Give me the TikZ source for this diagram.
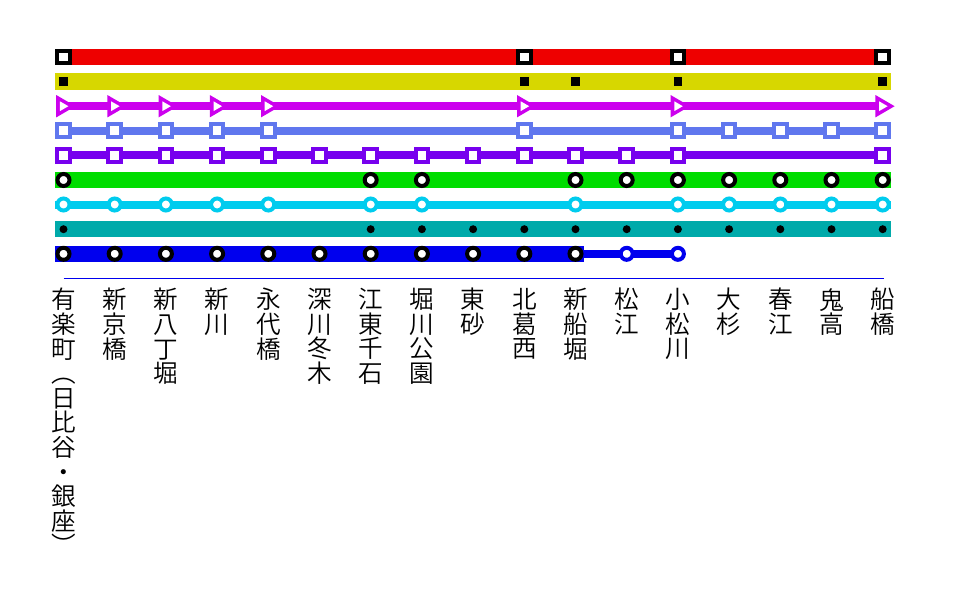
\documentclass[tikz,border=0pt]{standalone}
\usepackage{fontspec}
\newfontfamily\cjk{Noto Sans CJK JP DemiLight}
\definecolor{cRed}{HTML}{EE0000}
\definecolor{cYel}{HTML}{D7D700}
\definecolor{cMag}{HTML}{CC00EE}
\definecolor{cCor}{HTML}{6077EE}
\definecolor{cPur}{HTML}{7700EE}
\definecolor{cGrn}{HTML}{00DD00}
\definecolor{cCya}{HTML}{00CCEE}
\definecolor{cTea}{HTML}{00AAAA}
\definecolor{cBlu}{HTML}{0000EE}
\tikzset{
  x=1pt,y=-1pt,
  band/.style={line width=16.5pt,line cap=butt},
  thinline/.style={line width=8pt,line cap=butt},
  sq/.style={rectangle,draw=#1,fill=white,line width=4pt,minimum size=12.5pt,inner sep=0pt,outer sep=0pt},
  ring/.style={circle,draw=#1,fill=white,line width=4pt,minimum size=12pt,inner sep=0pt,outer sep=0pt},
  smallsq/.style={rectangle,fill=black,minimum size=8.5pt,inner sep=0pt,outer sep=0pt},
  dot/.style={circle,fill=black,minimum size=8pt,inner sep=0pt,outer sep=0pt},
  lab/.style={anchor=north,align=center,inner sep=0pt,outer sep=0pt,text=black,
    font=\cjk\fontsize{24.6}{24.6}\selectfont},
}
\newcommand{\sx}[1]{63.5+51.2*#1}
\begin{document}
\begin{tikzpicture}
\useasboundingbox (0,0) rectangle (960,606);
\fill[white] (0,0) rectangle (960,606);
% row end points
\foreach \r/\y in {1/57,2/81.6,3/106.2,4/130.7,5/155.3,6/180,7/204.5,8/229.2,9/253.8}{
  \coordinate (L\r) at (55.3,\y);
  \coordinate (R\r) at (890.8,\y);
}
\coordinate (Bend) at (583.7,253.8);
\coordinate (M0) at (63.5,106.2);
\coordinate (M1) at (882.7,106.2);
% lines
\draw[band,cRed] (L1) -- (R1);
\draw[band,cYel] (L2) -- (R2);
\draw[thinline,cMag] (M0) -- (M1);
\draw[thinline,cCor] (L4) -- (R4);
\draw[thinline,cPur] (L5) -- (R5);
\draw[band,cGrn] (L6) -- (R6);
\draw[thinline,cCya] (L7) -- (R7);
\draw[band,cTea] (L8) -- (R8);
\draw[band,cBlu] (L9) -- (Bend);
% stations
\foreach \i in {0,9,12,16} \node[sq=black] (ra\i) at ({\sx{\i}},57) {};
\foreach \i in {0,9,10,12,16} \node[smallsq] (rb\i) at ({\sx{\i}},81.6) {};
\foreach \i in {0,1,2,3,4,9,12,16}{
  \coordinate (rc\i) at ({\sx{\i}},106.2);
  \fill[cMag] (rc\i) ++(-7.3,-11.2) -- ++(19.2,11.2) -- ++(-19.2,11.2) -- cycle;
  \fill[white] (rc\i) ++(-3.6,-4.9) -- ++(8.5,4.9) -- ++(-8.5,4.9) -- cycle;
}
\foreach \i in {0,1,2,3,4,9,12,13,14,15,16} \node[sq=cCor] (rd\i) at ({\sx{\i}},130.7) {};
\foreach \i in {0,1,2,3,4,5,6,7,8,9,10,11,12,16} \node[sq=cPur] (re\i) at ({\sx{\i}},155.3) {};
\foreach \i in {0,6,7,10,11,12,13,14,15,16} \node[ring=black] (rf\i) at ({\sx{\i}},180) {};
\foreach \i in {0,1,2,3,4,6,7,10,12,13,14,15,16} \node[ring=cCya] (rg\i) at ({\sx{\i}},204.5) {};
\foreach \i in {0,6,7,8,9,10,11,12,13,14,15,16} \node[dot] (rh\i) at ({\sx{\i}},229.2) {};
\foreach \i in {0,1,2,3,4,5,6,7,8,9,10} \node[ring=black] (ri\i) at ({\sx{\i}},253.8) {};
\node[ring=cBlu] (ri11) at ({\sx{11}},253.8) {};
\node[ring=cBlu] (ri12) at ({\sx{12}},253.8) {};
\draw[thinline,cBlu] (Bend) -- (ri11) (ri11) -- (ri12);
% rule
\coordinate (RuleA) at (63.5,278.5);
\coordinate (RuleB) at (883.5,278.5);
\draw[cBlu,line width=1.5pt] (RuleA) -- (RuleB);
% labels
\node[lab] (l0) at ({\sx{0}},288.3) {有\\楽\\町\\︵\\日\\比\\谷\\・\\銀\\座\\︶};
\node[lab] (l1) at ({\sx{1}},288.3) {新\\京\\橋};
\node[lab] (l2) at ({\sx{2}},288.3) {新\\八\\丁\\堀};
\node[lab] (l3) at ({\sx{3}},288.3) {新\\川};
\node[lab] (l4) at ({\sx{4}},288.3) {永\\代\\橋};
\node[lab] (l5) at ({\sx{5}},288.3) {深\\川\\冬\\木};
\node[lab] (l6) at ({\sx{6}},288.3) {江\\東\\千\\石};
\node[lab] (l7) at ({\sx{7}},288.3) {堀\\川\\公\\園};
\node[lab] (l8) at ({\sx{8}},288.3) {東\\砂};
\node[lab] (l9) at ({\sx{9}},288.3) {北\\葛\\西};
\node[lab] (l10) at ({\sx{10}},288.3) {新\\船\\堀};
\node[lab] (l11) at ({\sx{11}},288.3) {松\\江};
\node[lab] (l12) at ({\sx{12}},288.3) {小\\松\\川};
\node[lab] (l13) at ({\sx{13}},288.3) {大\\杉};
\node[lab] (l14) at ({\sx{14}},288.3) {春\\江};
\node[lab] (l15) at ({\sx{15}},288.3) {鬼\\高};
\node[lab] (l16) at ({\sx{16}},288.3) {船\\橋};
\end{tikzpicture}
\end{document}
